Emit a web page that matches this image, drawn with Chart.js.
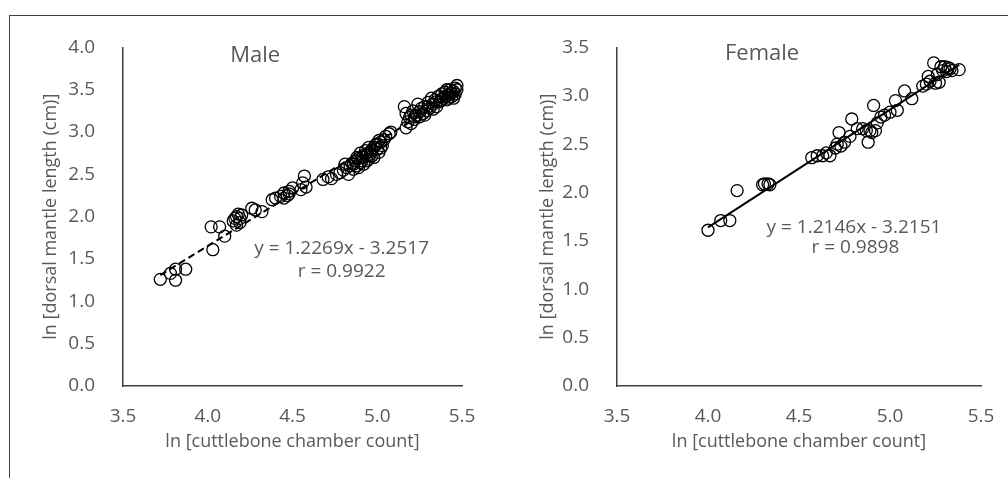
<!DOCTYPE html>
<html>
<head>
<meta charset="utf-8">
<script src="https://cdn.jsdelivr.net/npm/chart.js@4"></script>
<style>
  body { margin: 0; background: #fff; width: 1008px; height: 478px; overflow: hidden; position: relative; }
  #frame { position: absolute; left: 9px; top: 15px; width: 1010px; height: 480px; border-top: 1px solid #404040; border-left: 1px solid #404040; }
  canvas { position: absolute; top: 16px; }
  #maleChart { left: 10px; }
  #femaleChart { left: 500px; }
</style>
</head>
<body>
<div id="frame"></div>
<canvas id="maleChart" width="490" height="462"></canvas>
<canvas id="femaleChart" width="508" height="462"></canvas>
<script>
// ln cuttlebone chamber count vs ln dorsal mantle length
const maleX = [3.72, 3.78, 3.81, 3.81, 3.87, 4.03, 4.02, 4.07, 4.10, 4.15, 4.16, 4.17, 4.18, 4.19, 4.20, 4.26, 4.28, 4.32,
    4.38, 4.40, 4.43, 4.45, 4.47, 4.48, 4.50, 4.55, 4.56, 4.57, 4.58,
    4.68, 4.71, 4.73, 4.76, 4.78, 4.80, 4.81, 4.82, 4.83, 4.84, 4.85, 4.86, 4.87, 4.88, 4.89, 4.90, 4.90, 4.91, 4.92, 4.93,
    4.94, 4.95, 4.95, 4.96, 4.97, 4.98, 4.99, 5.00, 5.01, 5.02, 5.03, 5.04, 5.05, 5.07, 5.08,
    5.16, 5.17, 5.17, 5.18, 5.19, 5.20, 5.21, 5.22, 5.23, 5.24, 5.25, 5.26, 5.27, 5.28, 5.29, 5.30, 5.31, 5.32, 5.33,
    5.34, 5.35, 5.36, 5.37, 5.38, 5.39, 5.40, 5.41, 5.42, 5.43, 5.44, 5.45, 5.46, 5.47, 5.45, 5.43,
    4.86, 4.88, 4.91, 4.93, 4.96, 4.98, 5.00, 5.02, 4.89, 4.94, 4.97, 5.01,
    5.38, 5.40, 5.42, 5.44, 5.46, 5.41, 5.47, 5.35, 5.33, 5.30, 5.28, 5.25, 5.22, 5.20,
    4.17, 4.19, 4.45, 4.48];
const maleY = [1.26, 1.33, 1.25, 1.38, 1.38, 1.61, 1.88, 1.88, 1.77, 1.95, 1.98, 1.90, 2.03, 1.98, 2.02, 2.10, 2.08, 2.06,
    2.20, 2.22, 2.24, 2.28, 2.25, 2.30, 2.34, 2.32, 2.40, 2.48, 2.35,
    2.44, 2.47, 2.45, 2.50, 2.52, 2.55, 2.62, 2.58, 2.50, 2.60, 2.63, 2.56, 2.66, 2.60, 2.69, 2.64, 2.75, 2.70, 2.62, 2.78,
    2.72, 2.68, 2.82, 2.74, 2.79, 2.70, 2.85, 2.80, 2.76, 2.88, 2.84, 2.91, 2.95, 2.98, 3.00,
    3.30, 3.05, 3.22, 3.12, 3.17, 3.10, 3.25, 3.15, 3.20, 3.33, 3.18, 3.28, 3.22, 3.30, 3.25, 3.35, 3.28, 3.40, 3.33,
    3.38, 3.30, 3.42, 3.36, 3.45, 3.40, 3.47, 3.38, 3.44, 3.50, 3.42, 3.48, 3.52, 3.55, 3.40, 3.46,
    2.62, 2.70, 2.66, 2.74, 2.77, 2.82, 2.86, 2.81, 2.58, 2.66, 2.72, 2.90,
    3.38, 3.42, 3.40, 3.46, 3.45, 3.50, 3.50, 3.36, 3.27, 3.30, 3.20, 3.24, 3.18, 3.20,
    2.00, 1.93, 2.22, 2.27];

const femaleX = [4.00, 4.07, 4.12, 4.16, 4.30, 4.31, 4.33, 4.34,
    4.57, 4.60, 4.63, 4.65, 4.67, 4.70, 4.71, 4.72, 4.73, 4.75, 4.78, 4.79, 4.82, 4.85, 4.87, 4.88, 4.89, 4.90, 4.91,
    4.92, 4.93, 4.95, 4.97, 5.00, 5.03, 5.04, 5.08, 5.12,
    5.18, 5.20, 5.21, 5.22, 5.24, 5.25, 5.26, 5.27, 5.28, 5.29, 5.30, 5.31, 5.32, 5.33, 5.34, 5.38];
const femaleY = [1.61, 1.71, 1.71, 2.02, 2.08, 2.09, 2.09, 2.08,
    2.36, 2.38, 2.38, 2.41, 2.38, 2.46, 2.50, 2.62, 2.48, 2.52, 2.58, 2.76, 2.66, 2.66, 2.64, 2.52, 2.64, 2.62, 2.90,
    2.64, 2.72, 2.78, 2.80, 2.83, 2.95, 2.85, 3.05, 2.97,
    3.10, 3.12, 3.20, 3.15, 3.34, 3.13, 3.22, 3.14, 3.30, 3.26, 3.30, 3.25, 3.29, 3.28, 3.26, 3.27];

// trendline end points
const maleTrendX = [3.72, 5.47];
const maleTrendY = [1.31, 3.46];
const femaleTrendX = [4.00, 5.38];
const femaleTrendY = [1.64, 3.32];

const xTicks = [3.5, 4.0, 4.5, 5.0, 5.5];
const xTitle = "ln [cuttlebone chamber count]";
const yTitle = "ln [dorsal mantle length (cm)]";

const grey = "#595959";
const fontFamily = "'Open Sans', sans-serif";

function pairs(xs, ys) {
    return xs.map((x, i) => ({x: x, y: ys[i]}));
}

// draws the panel name and the regression text inside the plot
const notesPlugin = {
    id: "notes",
    afterDatasetsDraw(chart, args, opts) {
        const ctx = chart.ctx;
        const xs = chart.scales.x, ys = chart.scales.y;
        ctx.save();
        ctx.fillStyle = grey;
        ctx.textAlign = "center";
        ctx.textBaseline = "middle";
        opts.items.forEach(n => {
            ctx.font = n.size + "px " + fontFamily;
            ctx.fillText(n.text, xs.getPixelForValue(n.x), ys.getPixelForValue(n.y));
        });
        ctx.restore();
    }
};

function makeChart(id, points, trend, dashed, yMax, yWidth, yTitlePad, padRight, notes) {
    return new Chart(document.getElementById(id), {
        type: "scatter",
        data: {
            datasets: [{
                data: trend,
                showLine: true,
                borderColor: "#000",
                borderWidth: 2,
                borderDash: dashed ? [7, 4] : [],
                pointRadius: 0,
                clip: false
            }, {
                data: points,
                pointRadius: 6,
                pointBorderWidth: 1.3,
                pointBorderColor: "#000",
                pointBackgroundColor: "rgba(0,0,0,0)",
                clip: false
            }]
        },
        options: {
            responsive: false,
            animation: false,
            layout: {padding: {top: 31, left: 0, right: padRight, bottom: 0}},
            plugins: {
                legend: {display: false},
                tooltip: {enabled: false},
                notes: {items: notes}
            },
            scales: {
                x: {
                    type: "linear",
                    min: 3.5,
                    max: 5.5,
                    afterBuildTicks: s => { s.ticks = xTicks.map(v => ({value: v})); },
                    afterFit: s => { s.height = 92; },
                    grid: {display: false},
                    border: {display: true, color: "#404040", width: 1.5},
                    ticks: {
                        color: grey,
                        padding: 11,
                        maxRotation: 0,
                        font: {family: fontFamily, size: 19},
                        callback: v => v.toFixed(1)
                    },
                    title: {
                        display: true,
                        text: xTitle,
                        color: grey,
                        padding: {top: 0, bottom: 25},
                        font: {family: fontFamily, size: 18}
                    }
                },
                y: {
                    min: 0,
                    max: yMax,
                    afterFit: s => { s.width = yWidth; },
                    grid: {display: false},
                    border: {display: true, color: "#404040", width: 1.5},
                    ticks: {
                        stepSize: 0.5,
                        color: grey,
                        padding: 20,
                        font: {family: fontFamily, size: 19},
                        callback: v => v.toFixed(1)
                    },
                    title: {
                        display: true,
                        text: yTitle,
                        color: grey,
                        padding: {top: yTitlePad, bottom: 0},
                        font: {family: fontFamily, size: 18}
                    }
                }
            }
        },
        plugins: [notesPlugin]
    });
}

makeChart("maleChart", pairs(maleX, maleY), pairs(maleTrendX, maleTrendY), true, 4.0, 113, 30, 38, [
    {text: "Male", x: 4.28, y: 3.906, size: 22},
    {text: "y = 1.2269x - 3.2517", x: 4.79, y: 1.628, size: 19},
    {text: "r = 0.9922", x: 4.79, y: 1.349, size: 19}
]);

makeChart("femaleChart", pairs(femaleX, femaleY), pairs(femaleTrendX, femaleTrendY), false, 3.5, 117, 37, 27, [
    {text: "Female", x: 4.297, y: 3.438, size: 22},
    {text: "y = 1.2146x - 3.2151", x: 4.802, y: 1.642, size: 19},
    {text: "r = 0.9898", x: 4.81, y: 1.435, size: 19}
]);
</script>
</body>
</html>
